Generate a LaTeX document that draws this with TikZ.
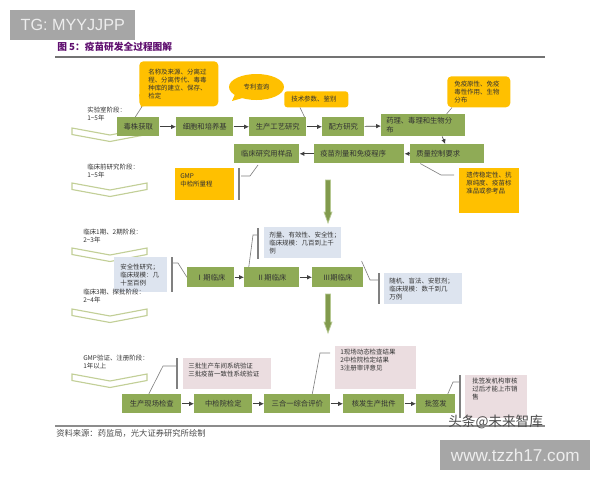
\documentclass[tikz,border=0pt]{standalone}
\usepackage{fontspec}
\usepackage{xcolor}
\setmainfont{Noto Sans CJK SC}
\newfontfamily\markfont{Liberation Sans}
\usetikzlibrary{shapes.geometric,arrows.meta}
\definecolor{stepgreen}{HTML}{8FAB56}
\definecolor{noteorange}{HTML}{FFC000}
\definecolor{noteblue}{HTML}{DDE4EF}
\definecolor{notepink}{HTML}{EBDDE0}
\definecolor{chevronline}{HTML}{C2CF97}
\definecolor{titlepurple}{HTML}{5F0F6F}
\definecolor{markgray}{HTML}{A6A6A6}
\def\px{0.025cm}
\tikzset{
  small/.style={font=\fontsize{4.6}{5.7}\selectfont, text=black!80},
  stepbox/.style={anchor=north west, fill=stepgreen, inner sep=0pt, align=center,
    font=\fontsize{5.2}{6.2}\selectfont, text=black!80, minimum height=19*\px},
  notebox/.style={small, anchor=north west, inner xsep=5*\px, inner ysep=0pt, align=left},
  stagelabel/.style={small, anchor=west, inner sep=0pt, align=left},
  flow/.style={-{Latex[length=3.4pt,width=3.2pt]}, black!75, line width=0.5pt},
  leader/.style={draw=black!50, line width=0.45pt},
  bracket/.style={draw=black!50, line width=0.8pt},
  bigarrow/.style={fill=stepgreen!90!black, draw=stepgreen!65, line width=0.5pt},
  chevron/.style={fill=white, draw=chevronline, line width=0.8pt},
  markbox/.style={fill=markgray, text=white!93!black, inner sep=0pt, anchor=north west}
}
\begin{document}
\begin{tikzpicture}[x=\px,y=-\px]
    \useasboundingbox (0,0) rectangle (600,480);

    % rules and captions
    \draw[black!55, line width=0.8pt] (55,57) -- (545,57);
    \draw[black!45, line width=0.8pt] (55,426) -- (545,426);
    \node[anchor=west, inner sep=0pt, text=titlepurple, font=\fontsize{6.9}{8}\selectfont\bfseries] (title) at (57,47) {图 5：疫苗研发全过程图解};
    \node[anchor=west, inner sep=0pt, text=black!70, font=\fontsize{5.9}{8}\selectfont] (source) at (56,433) {资料来源：药监局，光大证券研究所绘制};

    % stages on the left
    \foreach \y in {128,183,248,309,374}
        \draw[chevron] (72,\y) -- ++(38,7) -- ++(37,-7) -- ++(0,6.5) -- ++(-37,7) -- ++(-38,-7) -- cycle;
    \node[stagelabel] (lab) at (87,114) {实验室阶段：\\1\textasciitilde5年};
    \node[stagelabel] (preclin) at (87,171) {临床前研究阶段：\\1\textasciitilde5年};
    \node[stagelabel] (phaseone) at (83,236) {临床1期、2期阶段：\\2\textasciitilde3年};
    \node[stagelabel] (gmpstage) at (83,362) {GMP验证、注册阶段：\\1年以上};

    % first block
    \node[stepbox, minimum width=42*\px] (strain) at (117,117) {毒株获取};
    \node[stepbox, minimum width=57*\px] (cell) at (176,117) {细胞和培养基};
    \node[stepbox, minimum width=57*\px] (craft) at (249,117) {生产工艺研究};
    \node[stepbox, minimum width=42*\px] (recipe) at (322,117) {配方研究};
    \node[stepbox, text width=74*\px, inner xsep=5*\px, minimum height=22*\px, align=left] (pharma) at (381,114) {药理、毒理和生物分\\布};
    \node[stepbox, text width=62*\px, inner xsep=6*\px, align=left] (quality) at (410,144) {质量控制要求};
    \node[stepbox, text width=78*\px, inner xsep=6*\px, align=left] (dose) at (314,144) {疫苗剂量和免疫程序};
    \node[stepbox, minimum width=65*\px] (sample) at (234,144) {临床研究用样品};

    \draw[flow] (strain) -- (cell);
    \draw[flow] (cell) -- (craft);
    \draw[flow] (craft) -- (recipe);
    \draw[flow] (recipe) -- (pharma);
    \draw[flow] ([xshift=19*\px]pharma.south) -- ([xshift=-2*\px]quality.north);
    \draw[flow] (quality) -- (dose);
    \draw[flow] (dose) -- (sample);

    % orange notes
    \fill[noteorange] (139,94) -- (141,107) -- (150,104) -- cycle;
    \node[notebox, fill=noteorange, rounded corners=3pt, inner xsep=9*\px, text width=61*\px, minimum height=45*\px] (origin) at (139,61) {名称及来源、分离过\\程、分离传代、毒毒\\种库的建立、保存、\\检定};
    \fill[noteorange] (236,92) -- (232,101) -- (246,97) -- cycle;
    \node[small, ellipse, fill=noteorange, inner sep=0pt, minimum width=55*\px, minimum height=26*\px] (patent) at (256.5,87) {专利查询};
    \node[notebox, fill=noteorange, rounded corners=2pt, inner xsep=7*\px, text width=50*\px, minimum height=16*\px] (param) at (284,91) {技术参数、鉴别};
    \node[notebox, fill=noteorange, rounded corners=3pt, inner xsep=7*\px, text width=49*\px, minimum height=31*\px] (immune) at (447,76) {免疫原性、免疫\\毒性作用、生物\\分布};
    \node[notebox, fill=noteorange, inner xsep=7*\px, text width=46*\px, minimum height=45*\px] (gene) at (459,168) {遗传稳定性、抗\\原纯度、疫苗标\\准品或参考品\\~\\~};
    \node[notebox, fill=noteorange, text width=49*\px, minimum height=32*\px] (gmp) at (175,168) {GMP\\中检所量程\\~};

    \coordinate (samplefoot) at (258,165);
    \coordinate (gmpknee) at (250,176);
    \coordinate (gmptick) at (241,176);
    \coordinate (geneknee) at (441,175);
    \coordinate (genetick) at (454,175);
    \draw[leader] ([xshift=-3*\px]strain.north) -- ([xshift=3*\px]origin.south west);
    \draw[leader] ([xshift=-2*\px]craft.north east) -- ([xshift=16*\px]param.south west);
    \draw[leader] ([xshift=-19*\px]pharma.north east) -- ([xshift=5*\px]immune.south west);
    \draw[leader] ([xshift=-27*\px]quality.south) -- (geneknee) -- (genetick);
    \draw[bracket] (239,168) -- (239,200);
    \draw[leader] (gmptick) -- (gmpknee) -- (samplefoot);

    % clinical block
    \path[bigarrow] (325.5,180) -- (330.5,180) -- (330.5,212) -- (332,212) -- (328,223) -- (324,212) -- (325.5,212) -- cycle;
    \node[stepbox, minimum width=47*\px, minimum height=20*\px] (phasei) at (187,267) {Ⅰ期临床};
    \node[stepbox, minimum width=55*\px, minimum height=20*\px] (phaseii) at (244,267) {Ⅱ期临床};
    \node[stepbox, minimum width=51*\px, minimum height=20*\px] (phaseiii) at (312,267) {Ⅲ期临床};
    \draw[flow] (phasei) -- (phaseii);
    \draw[flow] (phaseii) -- (phaseiii);

    \node[notebox, fill=noteblue, inner xsep=6*\px, text width=41*\px, minimum height=35*\px] (safety) at (114,257) {安全性研究；\\临床规模：几\\十至百例};
    \node[notebox, fill=noteblue, text width=67*\px, minimum height=31*\px] (efficacy) at (264,227) {剂量、有效性、安全性；\\临床规模：几百到上千\\例};
    \node[notebox, fill=noteblue, text width=68*\px, minimum height=31*\px] (random) at (384,273) {随机、盲法、安慰剂；\\临床规模：数千到几\\万例};
    \node[stagelabel] (phasethree) at (83,296) {临床3期、探批阶段：\\2\textasciitilde4年};

    \coordinate (safetytick) at (172,263);
    \coordinate (safetyknee) at (178,263);
    \coordinate (efficacytick) at (258,235);
    \coordinate (efficacyknee) at (253,235);
    \coordinate (randomknee) at (370,280);
    \coordinate (randomtick) at (379,280);
    \draw[bracket] (172,257) -- (172,292);
    \draw[leader] (safetytick) -- (safetyknee) -- (phasei.west);
    \draw[bracket] (258,228) -- (258,259);
    \draw[leader] (efficacytick) -- (efficacyknee) -- ([xshift=-23*\px]phaseii.north);
    \draw[bracket] (379,273) -- (379,304);
    \draw[leader] ([xshift=-2*\px,yshift=6*\px]phaseiii.north east) -- (randomknee) -- (randomtick);

    % registration block
    \path[bigarrow] (325.5,294) -- (330.5,294) -- (330.5,322) -- (332,322) -- (328,333) -- (324,322) -- (325.5,322) -- cycle;
    \node[stepbox, minimum width=59*\px] (site) at (122,394) {生产现场检查};
    \node[stepbox, minimum width=58*\px] (nicpbp) at (194,394) {中检院检定};
    \node[stepbox, minimum width=66*\px] (threeinone) at (264,394) {三合一综合评价};
    \node[stepbox, minimum width=61*\px] (licence) at (343,394) {核发生产批件};
    \node[stepbox, minimum width=39*\px] (lotrelease) at (416,394) {批签发};
    \draw[flow] (site) -- (nicpbp);
    \draw[flow] (nicpbp) -- (threeinone);
    \draw[flow] (threeinone) -- (licence);
    \draw[flow] (licence) -- (lotrelease);

    \node[notebox, fill=notepink, text width=78*\px, minimum height=31*\px] (batch) at (183,358) {三批生产车间系统验证\\三批疫苗一致性系统验证\\~};
    \node[notebox, fill=notepink, text width=71*\px, minimum height=43*\px] (review) at (335,346) {1现场动态检查结果\\2中检院检定结果\\3注册审评意见\\~\\~};
    \node[notebox, fill=notepink, inner xsep=7*\px, text width=48*\px, minimum height=43*\px] (release) at (465,375) {批签发机构审核\\过后才能上市销\\售\\~\\~};

    \coordinate (batchtick) at (177,366);
    \coordinate (batchknee) at (163,366);
    \coordinate (reviewtick) at (330,353);
    \coordinate (reviewknee) at (320,353);
    \coordinate (releasetick) at (460,382);
    \coordinate (releaseknee) at (453,382);
    \draw[bracket] (177,358) -- (177,389);
    \draw[leader] (batchtick) -- (batchknee) -- ([xshift=-3*\px]site.north);
    \draw[leader] (reviewtick) -- (reviewknee) -- ([xshift=15*\px]threeinone.north);
    \draw[bracket] (460,375) -- (460,418);
    \draw[leader] (releasetick) -- (releaseknee) -- ([xshift=12*\px]lotrelease.north);

    % watermarks
    \node[markbox, minimum width=125*\px, minimum height=30*\px, font=\markfont\fontsize{11.5}{13}\selectfont] (tgmark) at (10,10) {TG: MYYJJPP};
    \node[markbox, minimum width=150*\px, minimum height=30*\px, font=\markfont\fontsize{12.2}{14}\selectfont] (sitemark) at (440,440) {www.tzzh17.com};
    \node[anchor=west, inner sep=0pt, text=black!70, font=\fontsize{9.7}{12}\selectfont] (toutiao) at (448,422) {头条@未来智库};
\end{tikzpicture}
\end{document}
